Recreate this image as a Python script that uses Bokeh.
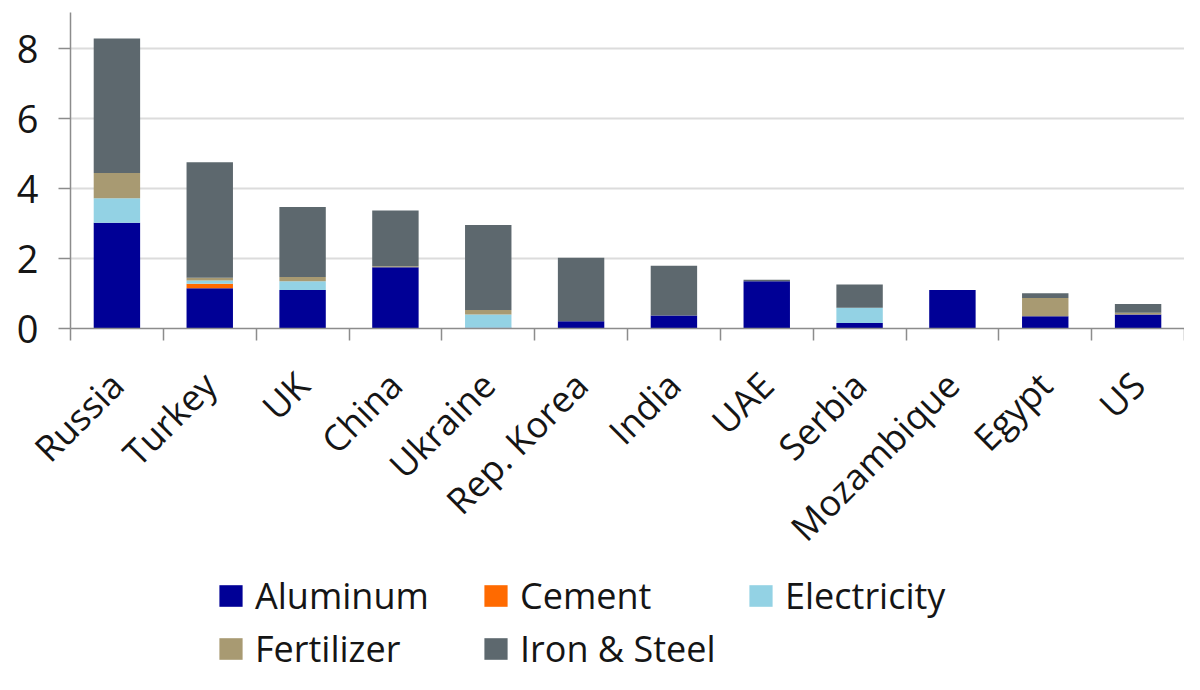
import math
from bokeh.plotting import figure
from bokeh.layouts import column
from bokeh.models import ColumnDataSource, Range1d, FixedTicker, Legend, LegendItem
from bokeh.embed import file_html
from bokeh.resources import INLINE

countries = ["Russia", "Turkey", "UK", "China", "Ukraine", "Rep. Korea",
             "India", "UAE", "Serbia", "Mozambique", "Egypt", "US"]
aluminum    = [3.02, 1.15, 1.10, 1.75, 0.02, 0.21, 0.37, 1.35, 0.16, 1.10, 0.35, 0.40]
cement      = [0.00, 0.13, 0.00, 0.00, 0.00, 0.00, 0.00, 0.00, 0.00, 0.00, 0.00, 0.00]
electricity = [0.70, 0.09, 0.25, 0.00, 0.38, 0.00, 0.00, 0.00, 0.43, 0.00, 0.00, 0.00]
fertilizer  = [0.72, 0.08, 0.12, 0.03, 0.13, 0.00, 0.00, 0.00, 0.00, 0.00, 0.52, 0.05]
iron_steel  = [3.85, 3.30, 2.00, 1.59, 2.43, 1.81, 1.42, 0.04, 0.67, 0.00, 0.14, 0.25]
y_ticks = [0, 2, 4, 6, 8]

series_names = ["Aluminum", "Cement", "Electricity", "Fertilizer", "Iron & Steel"]
series_keys = ["aluminum", "cement", "electricity", "fertilizer", "iron_steel"]
colors = ["#000096", "#FF6A00", "#93D2E4", "#A89A72", "#5D686E"]

n = len(countries)
centers = [i + 0.5 for i in range(n)]
bounds = list(range(n + 1))

source = ColumnDataSource(dict(
    x=centers, aluminum=aluminum, cement=cement, electricity=electricity,
    fertilizer=fertilizer, iron_steel=iron_steel,
))

FONT = "Open Sans"
TXT = "#151515"
AXC = "#8C8C8C"

W = 1184
H_MAIN = 571
H_LEG = 674 - H_MAIN

p = figure(width=W, height=H_MAIN, output_backend="svg", toolbar_location=None,
           x_range=Range1d(0, n), y_range=Range1d(0, 9.03),
           min_border_top=12, min_border_left=70, min_border_right=0,
           min_border_bottom=H_MAIN - 12 - 316)
p.outline_line_color = None
p.background_fill_color = "white"

p.vbar_stack(series_keys, x="x", width=0.5, color=colors, line_width=0,
             source=source)

# x axis
xa = p.xaxis[0]
xa.ticker = FixedTicker(ticks=centers, minor_ticks=bounds)
xa.major_label_overrides = {c: name for c, name in zip(centers, countries)}
xa.major_tick_line_color = None
xa.major_tick_in = 0
xa.major_tick_out = 0
xa.minor_tick_in = 0
xa.minor_tick_out = 12
xa.minor_tick_line_color = AXC
xa.minor_tick_line_width = 1.5
xa.axis_line_color = AXC
xa.axis_line_width = 1.5
xa.major_label_orientation = math.pi / 4
xa.major_label_text_font = FONT
xa.major_label_text_font_size = "36px"
xa.major_label_text_color = TXT
xa.major_label_standoff = 38

# y axis
ya = p.yaxis[0]
ya.ticker = FixedTicker(ticks=y_ticks)
ya.major_tick_in = 0
ya.major_tick_out = 12
ya.major_tick_line_color = AXC
ya.major_tick_line_width = 1.5
ya.minor_tick_line_color = None
ya.axis_line_color = AXC
ya.axis_line_width = 1.5
ya.major_label_text_font = FONT
ya.major_label_text_font_size = "38px"
ya.major_label_text_color = TXT
ya.major_label_standoff = 20

p.xgrid.grid_line_color = None
p.ygrid.ticker = FixedTicker(ticks=y_ticks)
p.ygrid.grid_line_color = "#DCDCDC"
p.ygrid.grid_line_width = 2

# legend in its own strip below the chart (swatch renderers have zero width, so
# they draw nothing; they only lend their colours to the legend)
pl = figure(width=W, height=H_LEG, output_backend="svg", toolbar_location=None,
            x_range=Range1d(0, 1), y_range=Range1d(0, 1),
            x_axis_type=None, y_axis_type=None,
            min_border_top=0, min_border_left=0, min_border_right=0, min_border_bottom=0)
pl.outline_line_color = None
pl.xgrid.grid_line_color = None
pl.ygrid.grid_line_color = None

swatches = pl.vbar_stack(series_keys, x="x", width=0, fill_color=colors,
                         line_color=None, source=source)
legend = Legend(items=[LegendItem(label=nm, renderers=[r]) for nm, r in zip(series_names, swatches)],
                orientation="horizontal", ncols=3, location=(146, 1))
legend.label_text_font = FONT
legend.label_text_font_size = "36px"
legend.label_text_color = TXT
legend.label_width = 222
legend.label_height = 44
legend.glyph_width = 29
legend.glyph_height = 27
legend.label_standoff = 10
legend.spacing = 4
legend.padding = 0
legend.margin = 0
legend.border_line_color = None
legend.background_fill_alpha = 0
pl.add_layout(legend)

open("out.html", "w").write(file_html(column(p, pl), INLINE))
